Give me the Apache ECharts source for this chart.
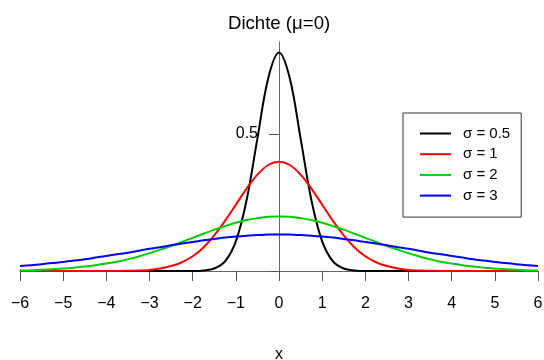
<!DOCTYPE html>
<html lang="de">
<head>
    <meta charset="UTF-8">
    <title>Dichte</title>
    <script src="https://cdn.jsdelivr.net/npm/echarts@6/dist/echarts.min.js"></script>
</head>
<body style="margin:0">
    <div id="myChart" style="width: 544px;height: 360px;"></div>
    <script>
        // x-Werte, Schritt 0.25
        var xs = [-6,-5.75,-5.5,-5.25,-5,-4.75,-4.5,-4.25,-4,-3.75,-3.5,-3.25,-3,-2.75,-2.5,-2.25,-2,-1.75,-1.5,-1.25,-1,-0.75,-0.5,-0.25,
                  0,0.25,0.5,0.75,1,1.25,1.5,1.75,2,2.25,2.5,2.75,3,3.25,3.5,3.75,4,4.25,4.5,4.75,5,5.25,5.5,5.75,6];
        var sigma05 = [0,0,0,0,0,0,0,0,0,0,0,0,0,0,0,0,0,0.002,0.009,0.035,0.108,0.259,0.484,0.704,
                       0.798,0.704,0.484,0.259,0.108,0.035,0.009,0.002,0,0,0,0,0,0,0,0,0,0,0,0,0,0,0,0,0];
        var sigma1 = [0,0,0,0,0,0,0,0,0,0,0.001,0.002,0.004,0.009,0.018,0.032,0.054,0.086,0.130,0.183,0.242,0.301,0.352,0.387,
                      0.399,0.387,0.352,0.301,0.242,0.183,0.130,0.086,0.054,0.032,0.018,0.009,0.004,0.002,0.001,0,0,0,0,0,0,0,0,0,0];
        var sigma2 = [0.002,0.003,0.005,0.006,0.009,0.012,0.016,0.021,0.027,0.034,0.043,0.053,0.065,0.078,0.091,0.106,0.121,0.136,0.151,0.164,0.176,0.186,0.193,0.198,
                      0.199,0.198,0.193,0.186,0.176,0.164,0.151,0.136,0.121,0.106,0.091,0.078,0.065,0.053,0.043,0.034,0.027,0.021,0.016,0.012,0.009,0.006,0.005,0.003,0.002];
        var sigma3 = [0.018,0.021,0.025,0.029,0.033,0.038,0.043,0.049,0.055,0.061,0.067,0.074,0.081,0.087,0.094,0.100,0.106,0.112,0.117,0.122,0.126,0.129,0.131,0.133,
                      0.133,0.133,0.131,0.129,0.126,0.122,0.117,0.112,0.106,0.100,0.094,0.087,0.081,0.074,0.067,0.061,0.055,0.049,0.043,0.038,0.033,0.029,0.025,0.021,0.018];
        var names = ['σ = 0.5', 'σ = 1', 'σ = 2', 'σ = 3'];
        var colors = ['#000000', '#ff0000', '#00cd00', '#0000ff'];
        var yTicks = [0, 0.5];
        var yLabels = [0.5];

        function pairs(ys) {
            return xs.map(function (x, i) { return [x, ys[i]]; });
        }

        var font = 'Liberation Sans, Arial, sans-serif';
        var myChart = echarts.init(document.getElementById('myChart'));
        var series = [sigma05, sigma1, sigma2, sigma3].map(function (ys, i) {
            return {
                name: names[i],
                type: 'line',
                data: pairs(ys),
                smooth: 0.35,
                symbol: 'none',
                color: colors[i],
                lineStyle: { color: colors[i], width: 2 },
                z: 3 + i
            };
        });

        var option = {
            animation: false,
            title: {
                text: 'Dichte (μ=0)',
                left: 223,
                top: 9,
                textStyle: { fontFamily: font, fontSize: 18.6, fontWeight: 'normal', color: '#000' }
            },
            legend: {
                orient: 'vertical',
                left: 403,
                top: 113,
                padding: [13, 11, 14, 17],
                itemGap: 5.7,
                itemWidth: 31,
                itemHeight: 2,
                icon: 'rect',
                borderColor: '#333',
                borderWidth: 1,
                textStyle: { fontFamily: font, fontSize: 15, lineHeight: 14, color: '#000', padding: [0, 0, 0, 7] },
                data: names
            },
            grid: { left: 20, right: 6, top: 42, bottom: 89, containLabel: false, outerBoundsMode: 'none' },
            xAxis: {
                type: 'value',
                min: -6,
                max: 6,
                interval: 1,
                name: 'x',
                nameLocation: 'middle',
                nameGap: 76,
                nameTextStyle: { fontFamily: font, fontSize: 16, color: '#000' },
                axisLine: { onZero: false, lineStyle: { color: '#666', width: 1 } },
                axisTick: { length: 10, lineStyle: { color: '#555' } },
                axisLabel: {
                    fontFamily: font, fontSize: 16, color: '#000', margin: 25,
                    formatter: function (v) { return v < 0 ? '\u2212' + Math.abs(v) : String(v); }
                },
                splitLine: { show: false }
            },
            yAxis: {
                type: 'value',
                min: 0,
                max: 0.836,
                position: 'left',
                offset: -259,
                axisLine: { show: true, onZero: false, lineStyle: { color: '#666', width: 1 } },
                axisTick: { show: true, length: 10, customValues: yTicks, lineStyle: { color: '#555' } },
                axisLabel: {
                    fontFamily: font, fontSize: 16, color: '#000', margin: 21,
                    customValues: yLabels
                },
                splitLine: { show: false }
            },
            series: series
        };

        myChart.setOption(option);
    </script>
</body>
</html>
